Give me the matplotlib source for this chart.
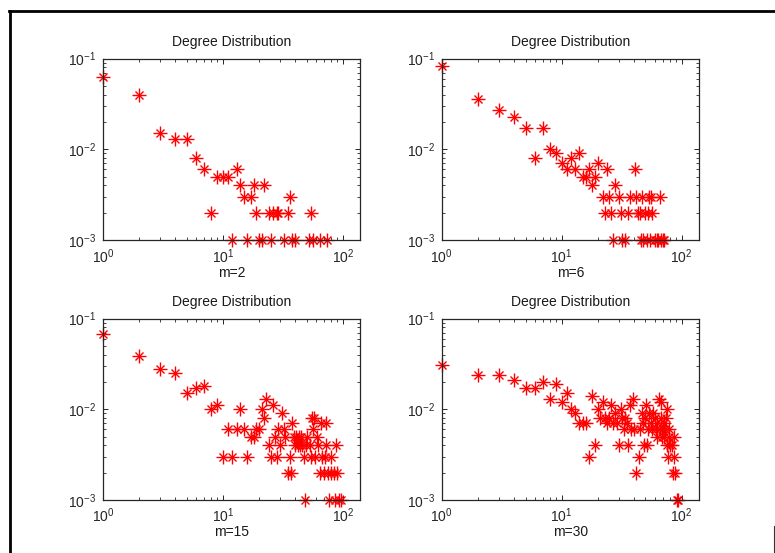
import numpy as np
import matplotlib
matplotlib.use('Agg')
import matplotlib.pyplot as plt
from matplotlib.lines import Line2D

plt.rcParams['font.family'] = ['Liberation Sans', 'DejaVu Sans']

# degree k and fraction of nodes p(k)
deg_m2 = [1, 2, 3, 4, 5, 6, 7, 8, 9, 10, 11, 12, 13, 14, 15, 16, 17, 18, 19, 20,
          21, 22, 24, 25, 26, 28, 29, 32, 35, 36, 38, 40, 52, 54, 56, 65, 74]
p_m2 = [.062, .040, .015, .013, .013, .008, .006, .002, .005, .005, .005, .001, .006,
        .004, .003, .001, .003, .004, .002, .001, .001, .004, .002, .001, .002, .002,
        .002, .001, .002, .003, .001, .001, .001, .002, .001, .001, .001]

deg_m6 = [1, 2, 3, 4, 5, 6, 7, 8, 9, 10, 11, 12, 13, 14, 15, 16, 17, 18, 19, 20,
          22, 23, 24, 25, 26, 27, 28, 30, 31, 32, 34, 36, 37, 41, 42, 43, 45, 46, 47,
          48, 50, 52, 53, 54, 55, 56, 57, 60, 62, 64, 66, 68, 70, 72]
p_m6 = [.083, .036, .027, .023, .017, .008, .017, .010, .009, .007, .006, .008, .006,
        .009, .005, .005, .006, .004, .005, .007, .003, .002, .006, .003, .002, .001,
        .004, .003, .002, .001, .001, .002, .003, .006, .003, .002, .002, .001, .003,
        .001, .002, .001, .002, .003, .001, .003, .002, .001, .001, .001, .003, .001,
        .001, .001]

deg_m15 = [1, 2, 3, 4, 5, 6, 7, 8, 9, 10, 11, 12, 13, 14, 15, 16, 17, 18, 19, 20,
           21, 22, 23, 24, 25, 26, 27, 28, 29, 30, 31, 32, 33, 35, 36, 37, 38, 39, 40,
           41, 42, 43, 44, 45, 46, 47, 48, 49, 50, 53, 54, 55, 56, 57, 59, 61, 62, 64,
           66, 67, 70, 71, 72, 73, 75, 76, 79, 80, 84, 86, 88, 90, 92, 96]
p_m15 = [.068, .039, .028, .025, .015, .017, .018, .010, .011, .003, .006, .003, .006,
         .010, .006, .003, .005, .005, .006, .006, .010, .008, .013, .004, .003, .011,
         .005, .003, .006, .004, .009, .006, .005, .002, .003, .002, .007, .005, .004,
         .005, .004, .005, .004, .005, .004, .003, .001, .004, .005, .004, .003, .008,
         .006, .008, .003, .005, .004, .002, .007, .003, .002, .003, .007, .004, .002,
         .001, .002, .003, .002, .001, .004, .002, .001, .001]

deg_m30 = [1, 2, 3, 4, 5, 6, 7, 8, 9, 10, 11, 12, 13, 14, 15, 16, 17, 18, 19, 20,
           21, 22, 23, 24, 25, 26, 27, 28, 29, 30, 31, 32, 33, 34, 35, 36, 37, 38, 39,
           40, 42, 44, 45, 47, 48, 49, 50, 51, 52, 53, 54, 56, 57, 58, 60, 61, 62, 63,
           65, 66, 67, 68, 69, 70, 71, 72, 73, 74, 75, 76, 77, 78, 79, 80, 84, 85, 86,
           87, 89, 91, 94]
p_m30 = [.031, .024, .024, .021, .017, .017, .020, .013, .019, .012, .015, .010, .009,
         .007, .007, .007, .003, .014, .004, .010, .008, .012, .008, .007, .008, .011,
         .007, .009, .007, .004, .010, .008, .006, .008, .007, .004, .011, .006, .013,
         .006, .002, .003, .006, .009, .007, .004, .008, .011, .004, .006, .009, .007,
         .006, .009, .008, .006, .005, .007, .013, .006, .008, .012, .005, .006, .007,
         .005, .006, .008, .004, .010, .003, .006, .005, .004, .004, .002, .005, .003,
         .002, .001, .001]

panels = [(deg_m2, p_m2, 'm=2'), (deg_m6, p_m6, 'm=6'),
          (deg_m15, p_m15, 'm=15'), (deg_m30, p_m30, 'm=30')]

fig = plt.figure(figsize=(7.75, 5.53), dpi=100)
boxes = [[0.133, 0.566, 0.332, 0.328], [0.570, 0.566, 0.332, 0.328],
         [0.133, 0.096, 0.332, 0.328], [0.570, 0.096, 0.332, 0.328]]

for box, (k, p, lab) in zip(boxes, panels):
    ax = fig.add_axes(box)
    # matlab style asterisk: a plus with a smaller cross on top
    ax.loglog(k, p, linestyle='none', marker='+', color='red', markersize=9.5,
              markeredgewidth=1.0, clip_on=False)
    ax.loglog(k, p, linestyle='none', marker='x', color='red', markersize=5.5,
              markeredgewidth=1.0, clip_on=False)
    ax.set_xlim(1, 140)
    ax.set_ylim(1e-3, 1e-1)
    ax.set_title('Degree Distribution', fontsize=10, pad=9, color='#1a1a1a')
    ax.set_xlabel(lab, fontsize=10, labelpad=0, color='#1a1a1a')
    ax.tick_params(which='both', direction='in', top=True, right=True,
                   labelsize=10, colors='#262626')
    ax.tick_params(which='major', length=3.5, width=0.7)
    ax.tick_params(which='minor', length=2, width=0.6)
    ax.tick_params(axis='y', pad=5)
    ax.tick_params(axis='x', pad=5)
    for s in ax.spines.values():
        s.set_color('#262626')
        s.set_linewidth(0.9)

# screenshot frame
fig.add_artist(Line2D([9 / 775, 1], [1 - 11 / 553, 1 - 11 / 553],
                      transform=fig.transFigure, color='black', linewidth=2))
fig.add_artist(Line2D([10 / 775, 10 / 775], [0, 1 - 11 / 553],
                      transform=fig.transFigure, color='black', linewidth=2))
fig.add_artist(Line2D([774 / 775, 774 / 775], [0, 1 - 526 / 553],
                      transform=fig.transFigure, color='#333333', linewidth=0.8))

fig.savefig('out.png', dpi=100)
